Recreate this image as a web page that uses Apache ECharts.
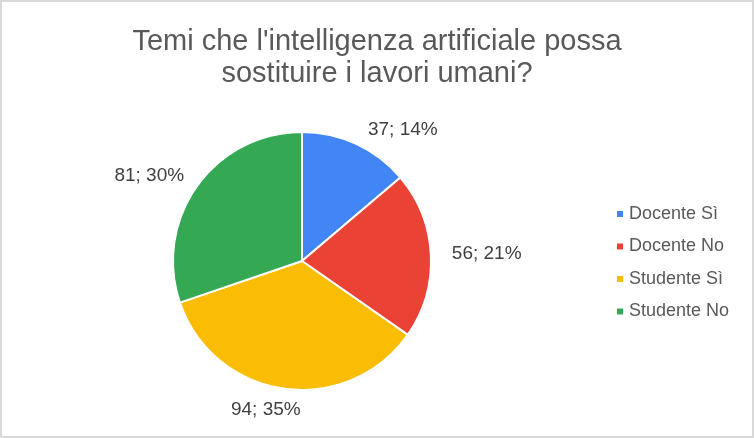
<!DOCTYPE html>
<html>
<head>
<meta charset="utf-8">
<script src="https://cdn.jsdelivr.net/npm/echarts@6/dist/echarts.min.js"></script>
<style>
  html, body { margin: 0; padding: 0; background: #fff; }
  #chart { width: 750px; height: 434px; border: 2px solid #d9d9d9; }
</style>
</head>
<body>
<div id="chart"></div>
<script>
  var categories = ['Docente Sì', 'Docente No', 'Studente Sì', 'Studente No'];
  var values = [37, 56, 94, 81];
  var colors = ['#4285f4', '#ea4335', '#fbbc04', '#34a853'];
  var titleText = "Temi che l'intelligenza artificiale possa\nsostituire i lavori umani?";

  var total = values.reduce(function (a, b) { return a + b; }, 0);
  // piccoli aggiustamenti delle etichette come nel grafico originale
  var labelShift = { 2: [24, 5], 3: [5, -1] };

  var chart = echarts.init(document.getElementById('chart'));
  chart.setOption({
    color: colors,
    title: {
      text: titleText,
      left: 'center',
      top: 19,
      textStyle: {
        fontFamily: 'Liberation Sans',
        fontSize: 29,
        fontWeight: 'normal',
        color: '#595959',
        lineHeight: 32
      }
    },
    legend: {
      orient: 'vertical',
      left: 608,
      top: 198,
      itemWidth: 8,
      itemHeight: 8,
      itemGap: 14.5,
      icon: 'rect',
      textStyle: { fontFamily: 'Liberation Sans', fontSize: 18, color: '#595959' },
      data: categories
    },
    series: [{
      type: 'pie',
      center: [300, 259],
      radius: 129,
      startAngle: 90,
      clockwise: true,
      itemStyle: { borderColor: '#fff', borderWidth: 2 },
      label: {
        show: true,
        position: 'outside',
        fontFamily: 'Liberation Sans',
        fontSize: 19,
        color: '#404040',
        formatter: function (p) {
          return p.value + '; ' + Math.round(p.value / total * 100) + '%';
        }
      },
      labelLine: { show: false, length: 16, length2: 0 },
      data: categories.map(function (c, i) {
        var d = { name: c, value: values[i] };
        if (labelShift[i]) d.label = { offset: labelShift[i] };
        return d;
      })
    }]
  });
</script>
</body>
</html>
